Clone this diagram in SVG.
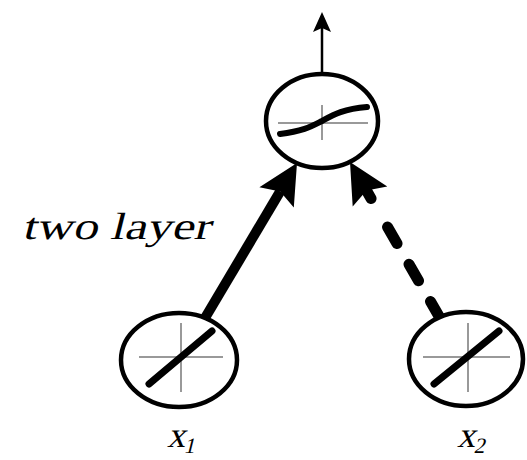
<svg xmlns="http://www.w3.org/2000/svg" width="527" height="460" viewBox="0 0 527 460">
<style>
.node{fill:#fff;stroke:#000;stroke-width:4.5}
.cross{stroke:#999;stroke-width:2;fill:none}
.act{stroke:#000;stroke-width:6;fill:none;stroke-linecap:round}
.head{fill:#000}
</style>
<g id="connectors">
<path d="M205,318 L280.2,191.4" stroke="#000" stroke-width="10" fill="none"/>
<polygon class="head" points="297,163 293.8,207.6 280.2,191.4 259.4,187.2"/>
<path d="M440,318 L366.5,190.6" stroke="#000" stroke-width="11" fill="none" stroke-linecap="round" stroke-dasharray="19 24 19 24 19 33 100"/>
<polygon class="head" points="350,162 387.3,186.6 366.5,190.6 352.7,206.6"/>
<path d="M322,73 L322,28" stroke="#000" stroke-width="2.5" fill="none"/>
<polygon class="head" points="322,12 331,32 322,28 313,32"/>
</g>
<g id="node-out">
<ellipse class="node" cx="322" cy="121" rx="56" ry="47"/>
<path class="cross" d="M278,123 H368 M322,105 V140"/>
<path class="act" d="M280,134 C304,131 312,126 322,121 C333,115 343,109 367,107"/>
</g>
<g id="node-x1">
<ellipse class="node" cx="179" cy="360" rx="58" ry="47"/>
<path class="cross" d="M139,357 H223 M181,323 V392"/>
<path class="act" style="stroke-width:7" d="M149,384 L212,331"/>
</g>
<g id="node-x2">
<ellipse class="node" cx="466" cy="359" rx="57" ry="47"/>
<path class="cross" d="M423,357 H510 M468,323 V392"/>
<path class="act" style="stroke-width:7" d="M434,384 L499,331"/>
</g>
<g id="labels" font-family="'Liberation Serif', 'Times New Roman', serif" font-style="normal" fill="#000">
<text transform="translate(22,239) skewX(-14)" font-size="38" textLength="188" lengthAdjust="spacingAndGlyphs">two layer</text>
<text transform="translate(167,447) skewX(-14)" font-size="36">x<tspan dy="6" font-size="22">1</tspan></text>
<text transform="translate(457,447) skewX(-14)" font-size="36">x<tspan dy="6" font-size="22">2</tspan></text>
</g>
</svg>
